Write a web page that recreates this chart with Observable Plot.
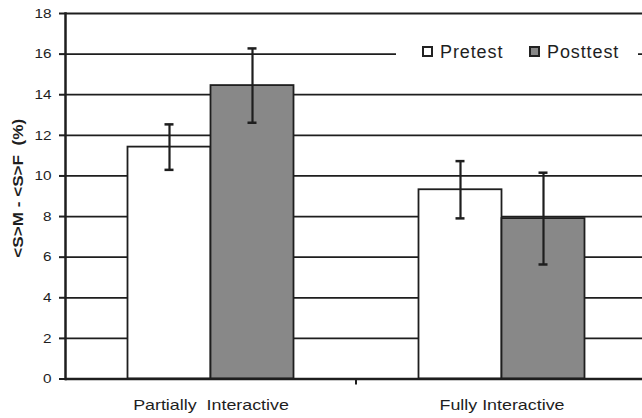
<!DOCTYPE html>
<html><head><meta charset="utf-8">
<script src="https://cdn.jsdelivr.net/npm/d3@7"></script>
<script src="https://cdn.jsdelivr.net/npm/@observablehq/plot@0.6"></script>
<style>
html,body{margin:0;padding:0;background:#fff;}
#wrap{position:relative;width:642px;height:418px;overflow:hidden;font-family:"Liberation Sans",Arial,sans-serif;}
#wrap svg text{white-space:pre;}
#legend{position:absolute;left:396px;top:44px;width:242px;height:19px;background:#fff;}
.sw{position:absolute;top:46px;width:11px;height:11px;box-sizing:border-box;border:2px solid #222;}
.lt{position:absolute;top:42.8px;font-size:18px;line-height:18px;letter-spacing:0.9px;color:#1e1e1e;white-space:nowrap;}
</style></head><body><div id="wrap"></div>
<script>
const categories = ["Partially  Interactive", "Fully Interactive"];
const series = ["Pretest", "Posttest"];
const pretest = [11.42, 9.32];
const posttest = [14.45, 7.9];
const pretestErr = [1.12, 1.41];
const posttestErr = [1.83, 2.26];
const yTicks = [0, 2, 4, 6, 8, 10, 12, 14, 16, 18];
const yLabel = "<S>M - <S>F  (%)";
const seriesColors = ["#ffffff", "#888888"];

const rows = [];
categories.forEach((c, i) => {
  rows.push({category: c, series: series[0], value: pretest[i], err: pretestErr[i]});
  rows.push({category: c, series: series[1], value: posttest[i], err: posttestErr[i]});
});
const ink = "#1e1e1e";

const chart = Plot.plot({
  width: 642, height: 418,
  marginLeft: 64.5, marginRight: -6, marginTop: 13, marginBottom: 39.5,
  fx: {domain: categories, padding: 0, label: null},
  x: {domain: series, paddingInner: 0, paddingOuter: 0.75, axis: null},
  y: {domain: [0, 18]},
  color: {domain: series, range: seriesColors},
  style: {fontFamily: "'Liberation Sans', Arial, sans-serif", background: "white", color: ink, overflow: "visible"},
  marks: [
    Plot.gridY(yTicks, {stroke: ink, strokeOpacity: 1, strokeWidth: 1.8}),
    Plot.barY(rows, {fx: "category", x: "series", y: "value", fill: "series", stroke: ink, strokeWidth: 1.8}),
    Plot.ruleX(rows, {fx: "category", x: "series", y1: d => d.value - d.err, y2: d => d.value + d.err, stroke: ink, strokeWidth: 2.2}),
    Plot.tickY(rows, {fx: "category", x: "series", y: d => d.value - d.err, stroke: ink, strokeWidth: 2.5, insetLeft: 37, insetRight: 37}),
    Plot.tickY(rows, {fx: "category", x: "series", y: d => d.value + d.err, stroke: ink, strokeWidth: 2.5, insetLeft: 37, insetRight: 37}),
    Plot.ruleY([0], {stroke: ink, strokeWidth: 2.5}),
    Plot.frame({anchor: "left", facetAnchor: "left", stroke: ink, strokeWidth: 2.5}),
    Plot.axisY(yTicks, {tickSize: 6, tickPadding: 8, fontSize: 13, stroke: ink, strokeWidth: 2, label: yLabel, labelAnchor: "center", labelArrow: "none", labelOffset: 52}),
    Plot.axisFx({anchor: "bottom", tickSize: 0, tickPadding: 20, fontSize: 15, label: null})
  ]
});

const wrap = document.getElementById("wrap");
wrap.appendChild(chart);
const svg = d3.select(chart);

function stretch(sel, k) {
  sel.each(function() {
    const L = this.getComputedTextLength();
    this.setAttribute("textLength", L * k);
    this.setAttribute("lengthAdjust", "spacingAndGlyphs");
  });
}
stretch(svg.selectAll('g[aria-label="y-axis tick label"] text'), 1.18);
stretch(svg.selectAll('g[aria-label="fx-axis tick label"] text'), 1.19);
svg.selectAll('g[aria-label="y-axis label"] text').each(function() {
  this.setAttribute("font-weight", "bold");
  this.style.fontWeight = "bold";
  this.setAttribute("font-size", 14);
  this.setAttribute("dx", 8);
  this.setAttribute("textLength", 139);
  this.setAttribute("lengthAdjust", "spacingAndGlyphs");
});

// category boundary tick on the x axis, from the library's fx and y scales
const fxs = chart.scale("fx"), ys = chart.scale("y");
categories.slice(1).forEach(c => {
  const bx = fxs.apply(c), by = ys.apply(0);
  svg.append("line").attr("x1", bx).attr("x2", bx).attr("y1", by).attr("y2", by + 6)
    .attr("stroke", ink).attr("stroke-width", 2);
});

// legend
const leg = document.createElement("div");
leg.id = "legend";
wrap.appendChild(leg);
const legLeft = [422, 529];
series.forEach((s, i) => {
  const sw = document.createElement("div");
  sw.className = "sw";
  sw.style.left = legLeft[i] + "px";
  sw.style.background = chart.scale("color").apply(s);
  wrap.appendChild(sw);
  const t = document.createElement("div");
  t.className = "lt";
  t.style.left = (legLeft[i] + 18) + "px";
  t.textContent = s;
  wrap.appendChild(t);
});
</script></body></html>
